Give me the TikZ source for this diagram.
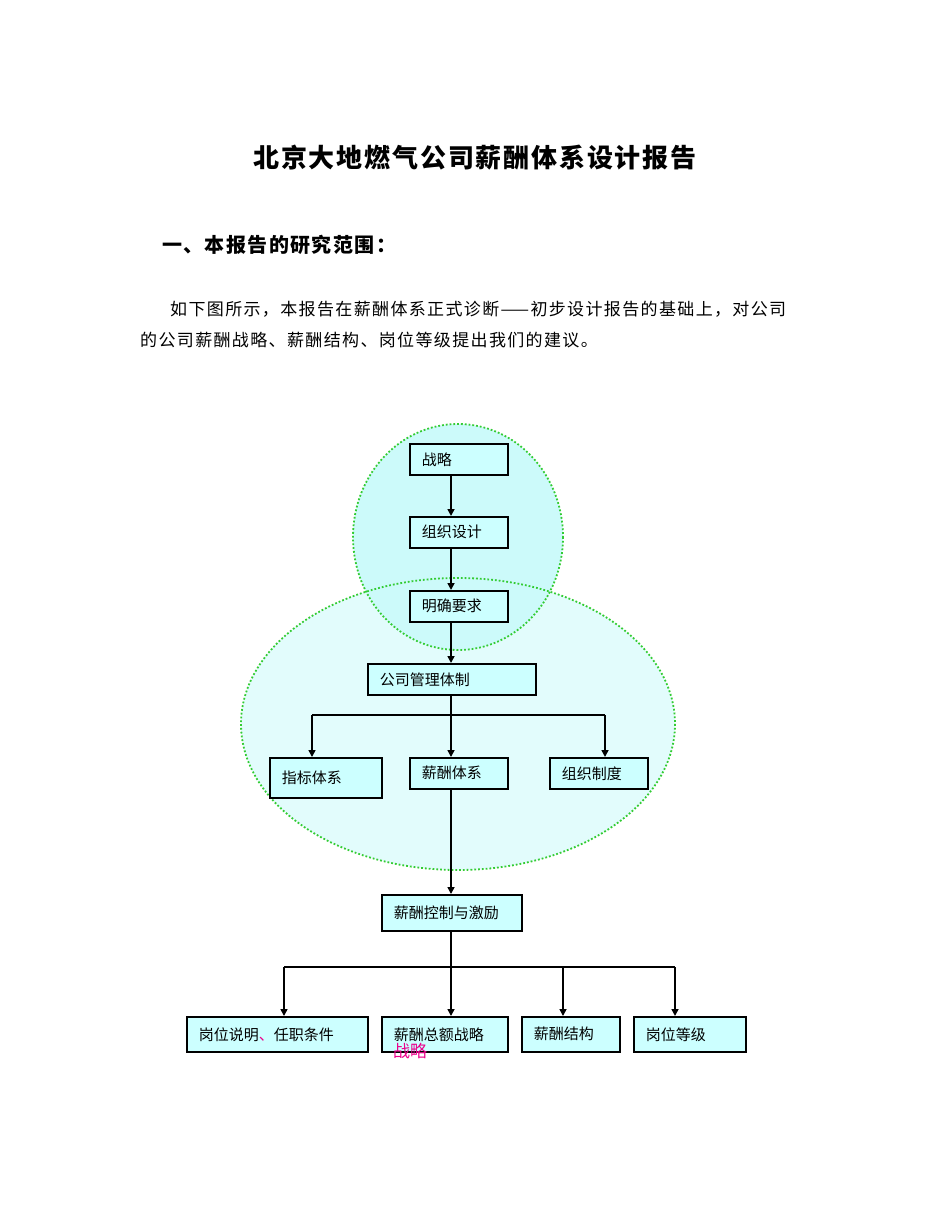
\documentclass[tikz,border=0pt]{standalone}
\usepackage{fontspec}
\setmainfont{Liberation Serif}
\newfontfamily\cjk{Noto Sans CJK SC}
\newfontfamily\cjkls[LetterSpace=8]{Noto Sans CJK SC}
\newfontfamily\cjkt[LetterSpace=7]{Noto Sans CJK SC}
\usetikzlibrary{arrows.meta}
\definecolor{boxc}{HTML}{CCFFFF}
\definecolor{circc}{HTML}{CCFAFA}
\definecolor{ellc}{HTML}{E2FCFC}
\definecolor{dotg}{HTML}{33CC33}
\begin{document}
\begin{tikzpicture}[x=1pt,y=-1pt,
  bx/.style={draw=black,line width=1.6pt,fill=boxc,anchor=north west,inner xsep=12pt,inner ysep=0pt,align=left,font=\cjk\fontsize{15}{17}\selectfont},
  arr/.style={line width=1.6pt,-{Triangle[length=7pt,width=7pt]}},
  ln/.style={line width=1.6pt}]
\useasboundingbox (0,0) rectangle (950,1230);
\fill[white] (0,0) rectangle (950,1230);
\node[font=\cjkt\bfseries\fontsize{26}{30}\selectfont] (title) at (475,158) {北京大地燃气公司薪酬体系设计报告};
\node[anchor=west,inner sep=0,font=\cjkt\bfseries\fontsize{20}{22}\selectfont] (h1) at (162,245) {一、本报告的研究范围：};
\node[anchor=west,inner sep=0,font=\cjkls\fontsize{17}{20}\selectfont] (p1) at (170,309) {如下图所示，本报告在薪酬体系正式诊断——初步设计报告的基础上，对公司};
\node[anchor=west,inner sep=0,font=\cjkls\fontsize{17}{20}\selectfont] (p2) at (140,340) {的公司薪酬战略、薪酬结构、岗位等级提出我们的建议。};
% regions
\fill[ellc] (458,724) ellipse [x radius=217,y radius=146];
\fill[circc] (458,537) ellipse [x radius=105,y radius=113];
\draw[dotg,line width=1.8pt,dotted] (458,724) ellipse [x radius=217,y radius=146];
\draw[dotg,line width=1.8pt,dotted] (458,537) ellipse [x radius=105,y radius=113];
% boxes
\node[bx,minimum width=98,minimum height=31,text width=74] (zl) at (409,443) {战略};
\node[bx,minimum width=98,minimum height=31,text width=74] (zz) at (409,516) {组织设计};
\node[bx,minimum width=98,minimum height=31,text width=74] (mq) at (409,590) {明确要求};
\node[bx,minimum width=168,minimum height=31,text width=144] (gs) at (367,663) {公司管理体制};
\node[bx,minimum width=112,minimum height=40,text width=88] (zb) at (269,757) {指标体系\\[8pt]};
\node[bx,minimum width=98,minimum height=31,text width=74] (xc) at (409,757) {薪酬体系};
\node[bx,minimum width=98,minimum height=31,text width=74] (zd) at (549,757) {组织制度};
\node[bx,minimum width=140,minimum height=36,text width=116] (kz) at (381,894) {薪酬控制与激励\\[2pt]};
\node[bx,minimum width=181,minimum height=35,text width=157] (gw) at (186,1016) {岗位说明{\color{magenta}、}任职条件};
\node[bx,minimum width=126,minimum height=35,text width=102] (ze) at (381,1016) {薪酬总额战略\\[6pt]};
\node[bx,minimum width=98,minimum height=35,text width=74] (jg) at (521,1016) {薪酬结构\\[6pt]};
\node[bx,minimum width=112,minimum height=35,text width=88] (dj) at (633,1016) {岗位等级\\[6pt]};
\node[anchor=west,inner sep=0,text=magenta,font=\cjk\fontsize{17}{19}\selectfont] (zl2) at (393,1051) {战略};
% connectors
\coordinate (vx) at (451,0);
\draw[arr] (zl.south -| vx) -- (zz.north -| vx);
\draw[arr] (zz.south -| vx) -- (mq.north -| vx);
\draw[arr] (mq.south -| vx) -- (gs.north -| vx);
\coordinate (b1) at (451,715);
\draw[ln] (gs.south -| vx) -- (b1);
\draw[ln] (312,715) -- (605,715);
\draw[arr] (312,715) -- (312,757);
\draw[arr] (b1) -- (xc.north -| vx);
\draw[arr] (605,715) -- (605,757);
\draw[arr] (xc.south -| vx) -- (kz.north -| vx);
\coordinate (b2) at (451,967);
\draw[ln] (kz.south -| vx) -- (b2);
\draw[ln] (284,967) -- (675,967);
\draw[arr] (284,967) -- (284,1016);
\draw[arr] (b2) -- (451,1016);
\draw[arr] (563,967) -- (563,1016);
\draw[arr] (675,967) -- (675,1016);
\end{tikzpicture}
\end{document}
